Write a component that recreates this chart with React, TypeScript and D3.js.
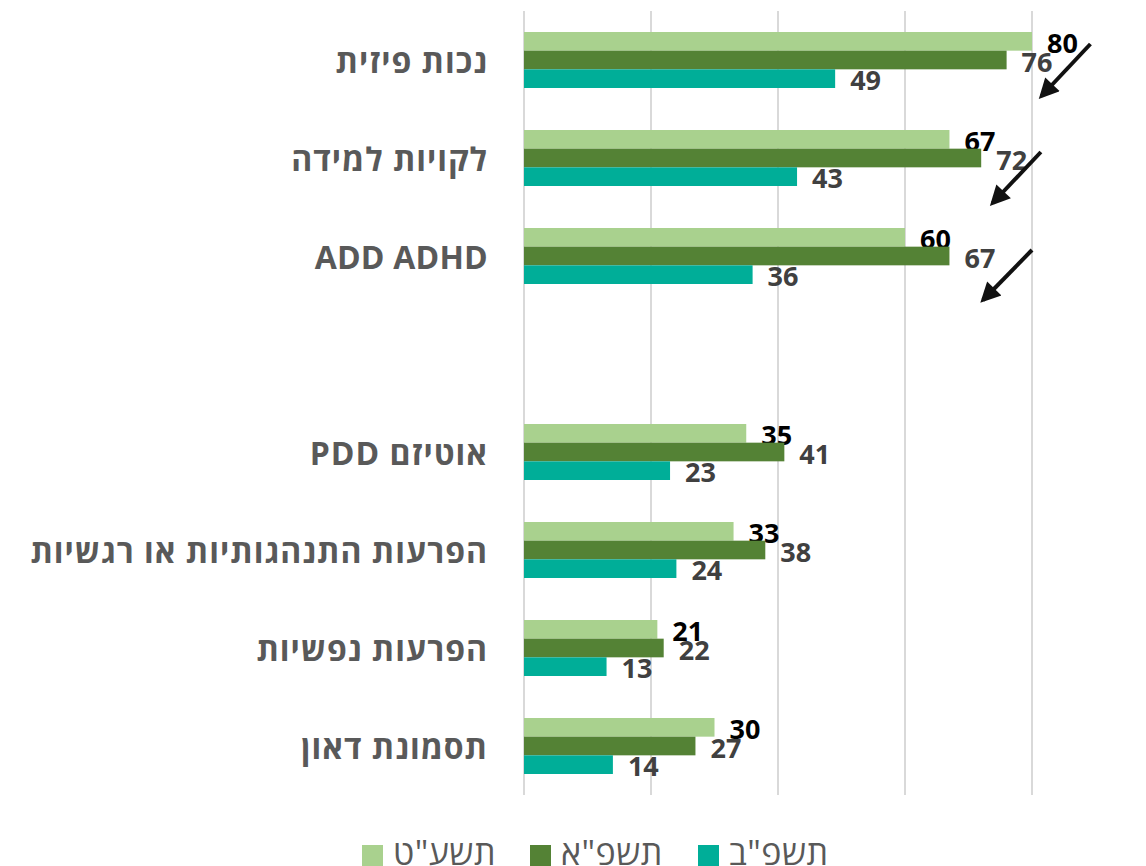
import React from "react";
import * as d3 from "d3";

const categories = [
  "נכות פיזית",
  "לקויות למידה",
  "ADD ADHD",
  "",
  "אוטיזם PDD",
  "הפרעות התנהגותיות או רגשיות",
  "הפרעות נפשיות",
  "תסמונת דאון",
];
const seriesNames = ["תשע\"ט", "תשפ\"א", "תשפ\"ב"];
const seriesColors = ["#A9D18E", "#548235", "#00AE98"];
const labelColors = ["#000000", "#404040", "#404040"];
const valuesTashat: (number | null)[] = [80, 67, 60, null, 35, 33, 21, 30];
const valuesTashpa: (number | null)[] = [76, 72, 67, null, 41, 38, 22, 27];
const valuesTashpb: (number | null)[] = [49, 43, 36, null, 23, 24, 13, 14];
const xTicks = [0, 20, 40, 60, 80];
// annotation arrows: data x, offset from category center
const arrows = [
  { cat: 0, x1: 89.2, d1: -16, x2: 81.5, d2: 36 },
  { cat: 1, x1: 81.4, d1: -6, x2: 73.8, d2: 45 },
  { cat: 2, x1: 80.0, d1: -6, x2: 72.3, d2: 44 },
];

export default function App() {
  const W = 1146, H = 866;
  const x = d3.scaleLinear().domain([0, 80]).range([524, 1032]);
  const y = d3.scaleBand<string>().domain(categories.map((c, i) => String(i))).range([11, 795]).padding(0);
  const step = y.step();
  const inner = d3.scaleBand<string>().domain(["0", "1", "2"]).range([21, step - 21]).padding(0);
  const series = [valuesTashat, valuesTashpa, valuesTashpb];
  const font = "'Open Sans', 'Liberation Sans', 'DejaVu Sans', sans-serif";

  return (
    <svg width={W} height={H} style={{ position: "absolute", left: 0, top: 0, fontFamily: font }}>
      <defs>
        <marker id="ah" viewBox="0 0 10 10" refX="8" refY="5" markerWidth="5.5" markerHeight="5" orient="auto" markerUnits="strokeWidth">
          <path d="M0,0 L10,5 L0,10 z" fill="#111" />
        </marker>
      </defs>
      <rect width={W} height={H} fill="#fff" />
      {xTicks.map((t) => (
        <line key={t} x1={x(t)} x2={x(t)} y1={11} y2={795} stroke="#D9D9D9" strokeWidth={2} />
      ))}
      {categories.map((c, i) => {
        const y0 = y(String(i))!;
        return (
          <g key={i}>
            {c && (
              <text x={488} y={y0 + step / 2} direction="rtl" textAnchor="start" dominantBaseline="central"
                fontSize={32} fontWeight="bold" fill="#595959" letterSpacing={/[\u0590-\u05FF]/.test(c) ? 1 : 0.2}>{c}</text>
            )}
            {series.map((s, k) => {
              const v = s[i];
              if (v == null) return null;
              const by = y0 + inner(String(k))!;
              const bh = inner.bandwidth();
              return (
                <g key={k}>
                  <rect x={x(0)} y={by} width={x(v) - x(0)} height={bh} fill={seriesColors[k]} />
                  <text x={x(v) + 15} y={by + bh / 2 + 1} dominantBaseline="central" fontSize={27}
                    fontWeight="bold" fill={labelColors[k]}>{v}</text>
                </g>
              );
            })}
          </g>
        );
      })}
      {arrows.map((a, i) => {
        const cy = y(String(a.cat))! + step / 2;
        return (
          <line key={i} x1={x(a.x1)} y1={cy + a.d1} x2={x(a.x2)} y2={cy + a.d2}
            stroke="#111" strokeWidth={4} markerEnd="url(#ah)" />
        );
      })}
      {seriesNames.map((n, k) => {
        const lx = 362 + k * 168;
        return (
          <g key={k}>
            <rect x={lx} y={845} width={21} height={21} fill={seriesColors[k]} />
            <text x={lx + 31} y={865} direction="rtl" textAnchor="end"
              fontSize={34} fill="#595959" letterSpacing={0.5}>{n}</text>
          </g>
        );
      })}
    </svg>
  );
}
